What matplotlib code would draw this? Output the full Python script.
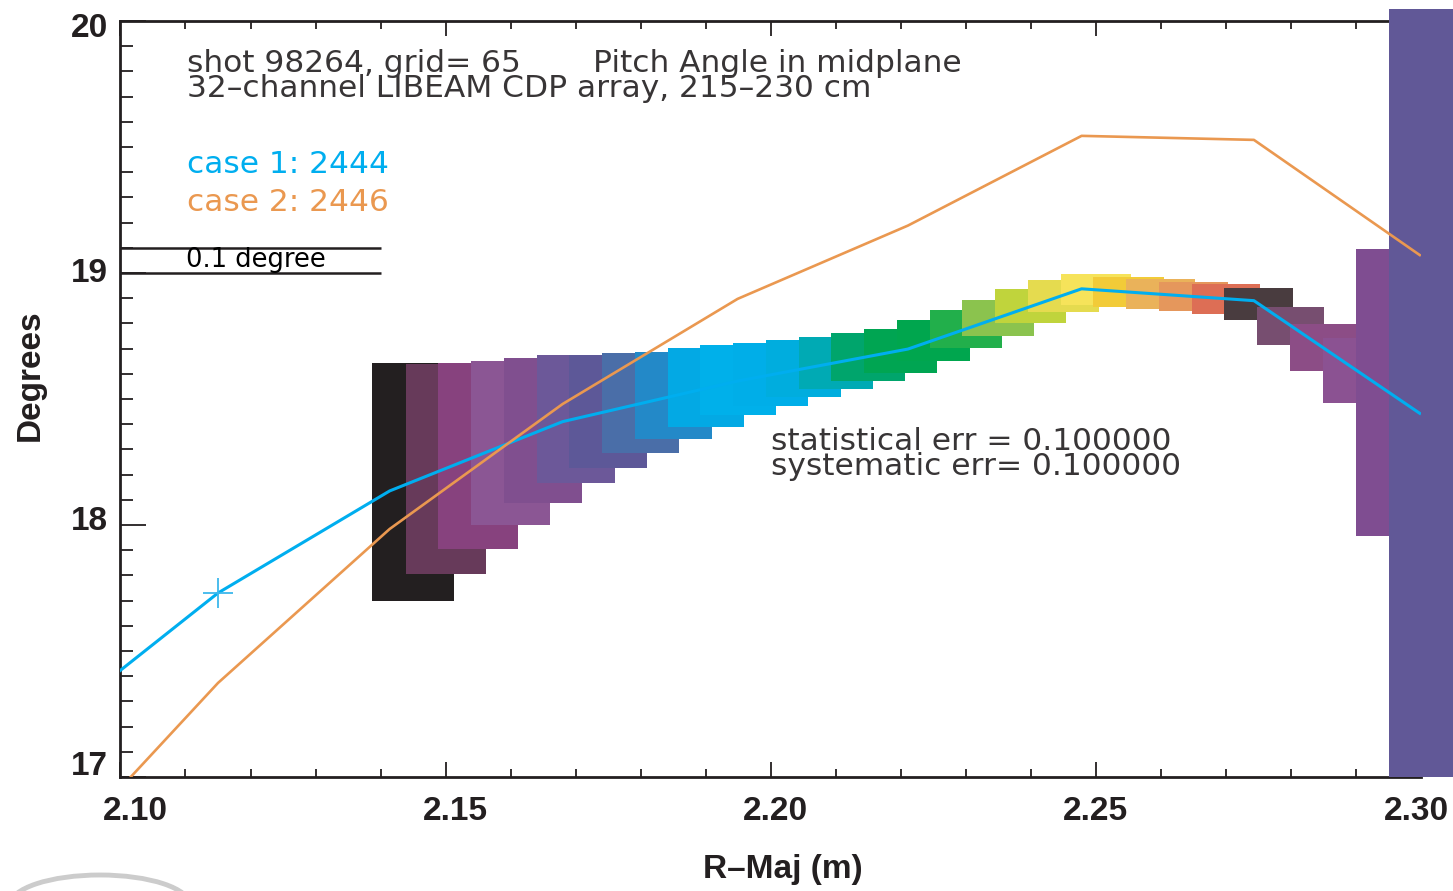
import matplotlib
matplotlib.use('Agg')
import matplotlib.pyplot as plt
from matplotlib.patches import Rectangle, Arc
from matplotlib.ticker import MultipleLocator
from matplotlib.transforms import ScaledTranslation

# channel boxes: centre (m), width (m), top/bottom (deg), colour
ch_r = [2.145, 2.150, 2.155, 2.160, 2.165, 2.170, 2.175, 2.180,
        2.185, 2.190, 2.195, 2.200, 2.205, 2.210, 2.215, 2.220,
        2.225, 2.230, 2.235, 2.240, 2.245, 2.250, 2.255, 2.260,
        2.265, 2.270, 2.275, 2.280, 2.285, 2.290, 2.295, 2.300]
ch_w = [0.0125, 0.0123, 0.0123, 0.0121, 0.0121, 0.0120, 0.0120, 0.0118,
        0.0118, 0.0117, 0.0117, 0.0115, 0.0115, 0.0114, 0.0114, 0.0112,
        0.0112, 0.0111, 0.0111, 0.0109, 0.0109, 0.0108, 0.0108, 0.0106,
        0.0106, 0.0105, 0.0105, 0.0103, 0.0102, 0.0102, 0.0101, 0.0100]
ch_top = [18.643, 18.639, 18.643, 18.651, 18.663, 18.675, 18.675, 18.683,
          18.687, 18.702, 18.714, 18.722, 18.734, 18.746, 18.762, 18.778,
          18.813, 18.853, 18.893, 18.937, 18.972, 18.996, 18.984, 18.976,
          18.964, 18.956, 18.940, 18.865, 18.798, 18.742, 19.096, 20.048]
ch_bot = [17.700, 17.807, 17.905, 18.001, 18.088, 18.168, 18.227, 18.287,
          18.340, 18.390, 18.438, 18.472, 18.509, 18.541, 18.573, 18.604,
          18.652, 18.704, 18.751, 18.803, 18.846, 18.874, 18.866, 18.858,
          18.850, 18.838, 18.815, 18.715, 18.612, 18.485, 17.958, 17.000]
ch_col = ['#231F20', '#673A5A', '#87427E', '#8B5694', '#804F8F', '#6C5899',
          '#5D5898', '#4A6EA8', '#2389C8', '#03A9E4', '#00B0EA', '#00AEE8',
          '#00ADDE', '#00AAB4', '#00A56C', '#00A552', '#00A64E', '#22AF4B',
          '#8BC34E', '#C0D43C', '#E5DB4F', '#F6E35A', '#F2CB38', '#EAB25A',
          '#E5975C', '#DD6E55', '#493C3F', '#774E70', '#8C4D86', '#8B5292',
          '#7F4D91', '#615897']

# model pitch angle profiles
r_model = [2.0885, 2.1150, 2.1414, 2.1680, 2.1949, 2.2211, 2.2478, 2.2743, 2.2998]
case1 = [17.188, 17.730, 18.135, 18.410, 18.571, 18.698, 18.937, 18.890, 18.443]
case2 = [16.636, 17.373, 17.984, 18.480, 18.897, 19.188, 19.544, 19.528, 19.071]

xticks = [2.10, 2.15, 2.20, 2.25, 2.30]
xticklabels = ['2.10', '2.15', '2.20', '2.25', '2.30']
yticks = [17, 18, 19, 20]
yticklabels = ['17', '18', '19', '20']

BLUE = '#00AEEF'
ORANGE = '#EA9850'
INK = '#231F20'
TXT = '#383536'

fig = plt.figure(figsize=(14.53, 8.91), dpi=100)
ax = fig.add_axes([0.0829, 0.128, 0.8951, 0.8485])
ax.set_xlim(2.10, 2.30)
ax.set_ylim(17, 20)

for r, w, t, b, c in zip(ch_r, ch_w, ch_top, ch_bot, ch_col):
    ax.add_patch(Rectangle((r - w / 2, b), w, t - b, facecolor=c,
                           edgecolor='none', zorder=3, clip_on=False))

ax.plot(r_model, case1, color=BLUE, lw=2.2, zorder=5)
ax.plot(r_model, case2, color=ORANGE, lw=1.9, zorder=5)
ax.plot(r_model[1], case1[1], marker='+', ms=22, mew=1.3, color='#3DB8EC', zorder=6)

# 0.1 degree scale bar
ax.hlines([19.0, 19.1], 2.10, 2.14, color=INK, lw=1.8, zorder=4)

thin = dict(family='DejaVu Sans', color=TXT, transform=ax.transAxes)
ax.text(0.0511, 0.9329, 'shot 98264, grid= 65', fontsize=22.5, **thin)
ax.text(0.3633, 0.9329, 'Pitch Angle in midplane', fontsize=22.5, **thin)
ax.text(0.0511, 0.8999, '32\u2013channel LIBEAM CDP array, 215\u2013230 cm', fontsize=22.5, **thin)
ax.text(0.0511, 0.7985, 'case 1: 2444', fontsize=22.5, family='DejaVu Sans',
        color=BLUE, transform=ax.transAxes)
ax.text(0.0511, 0.7487, 'case 2: 2446', fontsize=22.5, family='DejaVu Sans',
        color=ORANGE, transform=ax.transAxes)
ax.text(0.0504, 0.675, '0.1 degree', fontsize=18.5, family='DejaVu Sans',
        color='black', transform=ax.transAxes, zorder=6)
ax.text(0.5002, 0.4325, 'statistical err = 0.100000', fontsize=22.5, **thin)
ax.text(0.5002, 0.3995, 'systematic err= 0.100000', fontsize=22.5, **thin)

# axes styling
ax.xaxis.set_minor_locator(MultipleLocator(0.01))
ax.yaxis.set_minor_locator(MultipleLocator(0.1))
ax.tick_params(axis='x', which='both', direction='in', top=True, bottom=True,
               color=INK, width=1.3)
ax.tick_params(axis='x', which='major', length=11, pad=14)
ax.tick_params(axis='x', which='minor', length=5.5)
ax.tick_params(axis='y', which='both', direction='in', left=True, right=False,
               color=INK, width=1.3)
ax.tick_params(axis='y', which='major', length=19, pad=9)
ax.tick_params(axis='y', which='minor', length=9.5)
ax.set_xticks(xticks)
ax.set_xticklabels(xticklabels)
ax.set_yticks(yticks)
ax.set_yticklabels(yticklabels)
bold = 'Liberation Sans'
for lab in ax.get_xticklabels() + ax.get_yticklabels():
    lab.set_family(bold)
    lab.set_fontweight('bold')
    lab.set_fontsize(24)
    lab.set_color(INK)

# the tick labels sit slightly off their ticks (pixel nudges)
for lab, dx in zip(ax.get_xticklabels(), [15, 9.5, 4.5, 0, -5]):
    lab.set_transform(lab.get_transform() + ScaledTranslation(dx / 100, 0, fig.dpi_scale_trans))
for lab, dy in zip(ax.get_yticklabels(), [13.5, 7, 3, -4]):
    lab.set_transform(lab.get_transform() + ScaledTranslation(0, dy / 100, fig.dpi_scale_trans))

for sp in ax.spines.values():
    sp.set_linewidth(2.0)
    sp.set_color(INK)
ax.spines['right'].set_visible(False)

fig.text(0.0206, 0.579, 'Degrees', rotation=90, ha='center', va='center',
         fontsize=24, fontweight='bold', family=bold, color=INK)
fig.text(0.539, 0.0236, 'R\u2013Maj (m)', ha='center', va='center',
         fontsize=24, fontweight='bold', family=bold, color=INK)

# grey logo swoosh in the lower-left corner
fig.patches.append(Arc((100 / 1453, -14 / 891), 180 / 1453, 60 / 891,
                       theta1=0, theta2=180, transform=fig.transFigure,
                       color='#CCCCCC', lw=3.5, figure=fig))

fig.savefig('out.png', dpi=100, facecolor='white')
